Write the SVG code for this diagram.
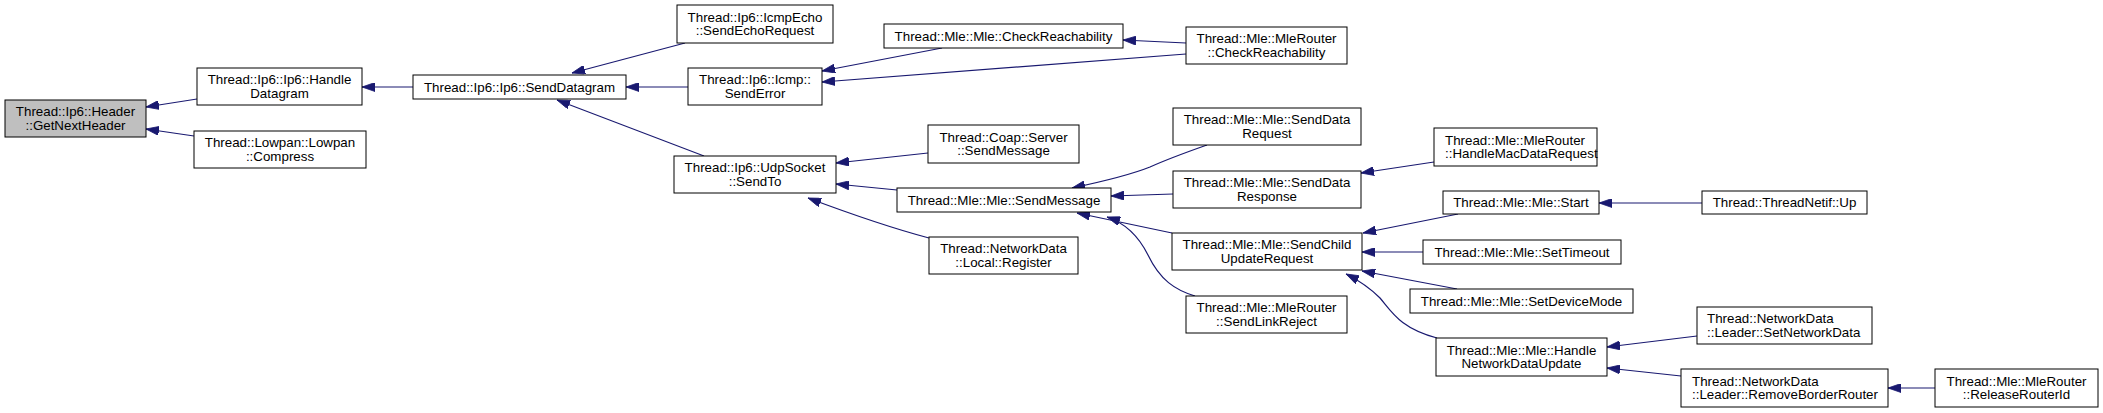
<svg xmlns="http://www.w3.org/2000/svg" width="2103" height="413" viewBox="0 0 2103 413">
<defs>
<style>
.n rect{fill:#ffffff;stroke:#000000;stroke-width:1}
.n text{font-family:"Liberation Sans",Arial,Helvetica,sans-serif;font-size:13.33px;fill:#000000;text-anchor:middle}
.n text.l{text-anchor:start}
#edges path{fill:none;stroke:#191970;stroke-width:1.2;marker-start:url(#ah)}
</style>
<marker id="ah" viewBox="0 0 13 9" refX="13" refY="4.5" markerWidth="13" markerHeight="9" markerUnits="userSpaceOnUse" orient="auto-start-reverse">
<path d="M0,0 L13,4.5 L0,9 z" fill="#191970" stroke="#191970" stroke-width="0.8"/>
</marker>
</defs>
<rect width="2103" height="413" fill="#ffffff"/>
<g id="edges">
<path d="M146,107 L197,99"/>
<path d="M146,129 L194,136"/>
<path d="M362,87 L413,87"/>
<path d="M572,73 L685,43"/>
<path d="M626,87 L688,87"/>
<path d="M557,100 L704,156"/>
<path d="M822,71 L942,48"/>
<path d="M822,82 L1186,54"/>
<path d="M1123,40 L1186,43"/>
<path d="M836,163 L928,153"/>
<path d="M836,184 L897,190"/>
<path d="M808,198 C840,210 880,225 929,238"/>
<path d="M1072,188 C1110,180 1130,175 1150,167 C1170,158 1190,151 1207,145"/>
<path d="M1111,196 L1173,194"/>
<path d="M1077,213 L1172,233"/>
<path d="M1107,217 C1125,223 1138,235 1148,255 C1160,280 1175,290 1195,296"/>
<path d="M1361,173 L1434,162"/>
<path d="M1363,233 L1458,214"/>
<path d="M1362,252 L1423,252"/>
<path d="M1362,271 L1457,289"/>
<path d="M1346,274 C1360,281 1370,288 1380,298 C1392,312 1400,328 1437,338"/>
<path d="M1599,203 L1702,203"/>
<path d="M1607,347 L1697,336"/>
<path d="M1607,368 L1681,376"/>
<path d="M1888,388 L1935,388"/>
</g>
<g id="n_getnextheader" class="n"><rect x="5" y="100" width="141" height="37" style="fill:#bfbfbf"/><text x="75.5" y="116">Thread::Ip6::Header</text><text x="75.5" y="129.5">::GetNextHeader</text></g>
<g id="n_handledatagram" class="n"><rect x="197" y="68" width="165" height="37"/><text x="279.5" y="84">Thread::Ip6::Ip6::Handle</text><text x="279.5" y="97.5">Datagram</text></g>
<g id="n_compress" class="n"><rect x="194" y="131" width="172" height="37"/><text x="280" y="147">Thread::Lowpan::Lowpan</text><text x="280" y="160.5">::Compress</text></g>
<g id="n_senddatagram" class="n"><rect x="413" y="75" width="213" height="24"/><text x="519.5" y="91.5">Thread::Ip6::Ip6::SendDatagram</text></g>
<g id="n_sendechorequest" class="n"><rect x="677" y="5" width="156" height="38"/><text x="755" y="21.5">Thread::Ip6::IcmpEcho</text><text x="755" y="35">::SendEchoRequest</text></g>
<g id="n_senderror" class="n"><rect x="688" y="68" width="134" height="37"/><text x="755" y="84">Thread::Ip6::Icmp::</text><text x="755" y="97.5">SendError</text></g>
<g id="n_sendto" class="n"><rect x="674" y="156" width="162" height="37"/><text x="755" y="172">Thread::Ip6::UdpSocket</text><text x="755" y="185.5">::SendTo</text></g>
<g id="n_mle_checkreach" class="n"><rect x="884" y="24" width="239" height="24"/><text x="1003.5" y="40.5">Thread::Mle::Mle::CheckReachability</text></g>
<g id="n_router_checkreach" class="n"><rect x="1186" y="27" width="161" height="37"/><text x="1266.5" y="43">Thread::Mle::MleRouter</text><text x="1266.5" y="56.5">::CheckReachability</text></g>
<g id="n_coap_sendmessage" class="n"><rect x="928" y="125" width="151" height="38"/><text x="1003.5" y="141.5">Thread::Coap::Server</text><text x="1003.5" y="155">::SendMessage</text></g>
<g id="n_mle_sendmessage" class="n"><rect x="897" y="188" width="214" height="24"/><text x="1004" y="204.5">Thread::Mle::Mle::SendMessage</text></g>
<g id="n_register" class="n"><rect x="929" y="237" width="149" height="37"/><text x="1003.5" y="253">Thread::NetworkData</text><text x="1003.5" y="266.5">::Local::Register</text></g>
<g id="n_senddatarequest" class="n"><rect x="1173" y="108" width="188" height="37"/><text x="1267" y="124">Thread::Mle::Mle::SendData</text><text x="1267" y="137.5">Request</text></g>
<g id="n_senddataresponse" class="n"><rect x="1173" y="171" width="188" height="37"/><text x="1267" y="187">Thread::Mle::Mle::SendData</text><text x="1267" y="200.5">Response</text></g>
<g id="n_sendchildupdaterequest" class="n"><rect x="1172" y="233" width="190" height="37"/><text x="1267" y="249">Thread::Mle::Mle::SendChild</text><text x="1267" y="262.5">UpdateRequest</text></g>
<g id="n_sendlinkreject" class="n"><rect x="1186" y="296" width="161" height="37"/><text x="1266.5" y="312">Thread::Mle::MleRouter</text><text x="1266.5" y="325.5">::SendLinkReject</text></g>
<g id="n_handlemacdatarequest" class="n"><rect x="1434" y="128" width="163" height="38"/><text class="l" x="1445" y="144.5">Thread::Mle::MleRouter</text><text class="l" x="1445" y="158">::HandleMacDataRequest</text></g>
<g id="n_start" class="n"><rect x="1443" y="191" width="156" height="23"/><text x="1521" y="207">Thread::Mle::Mle::Start</text></g>
<g id="n_settimeout" class="n"><rect x="1423" y="240" width="198" height="24"/><text x="1522" y="256.5">Thread::Mle::Mle::SetTimeout</text></g>
<g id="n_setdevicemode" class="n"><rect x="1410" y="289" width="223" height="24"/><text x="1521.5" y="305.5">Thread::Mle::Mle::SetDeviceMode</text></g>
<g id="n_handlenetworkdataupdate" class="n"><rect x="1436" y="338" width="171" height="38"/><text x="1521.5" y="354.5">Thread::Mle::Mle::Handle</text><text x="1521.5" y="368">NetworkDataUpdate</text></g>
<g id="n_up" class="n"><rect x="1702" y="191" width="165" height="23"/><text x="1784.5" y="207">Thread::ThreadNetif::Up</text></g>
<g id="n_setnetworkdata" class="n"><rect x="1697" y="307" width="175" height="37"/><text class="l" x="1707" y="323">Thread::NetworkData</text><text class="l" x="1707" y="336.5">::Leader::SetNetworkData</text></g>
<g id="n_removeborderrouter" class="n"><rect x="1681" y="369" width="207" height="38"/><text class="l" x="1692" y="385.5">Thread::NetworkData</text><text class="l" x="1692" y="399">::Leader::RemoveBorderRouter</text></g>
<g id="n_releaserouterid" class="n"><rect x="1935" y="369" width="163" height="38"/><text x="2016.5" y="385.5">Thread::Mle::MleRouter</text><text x="2016.5" y="399">::ReleaseRouterId</text></g>
</svg>
